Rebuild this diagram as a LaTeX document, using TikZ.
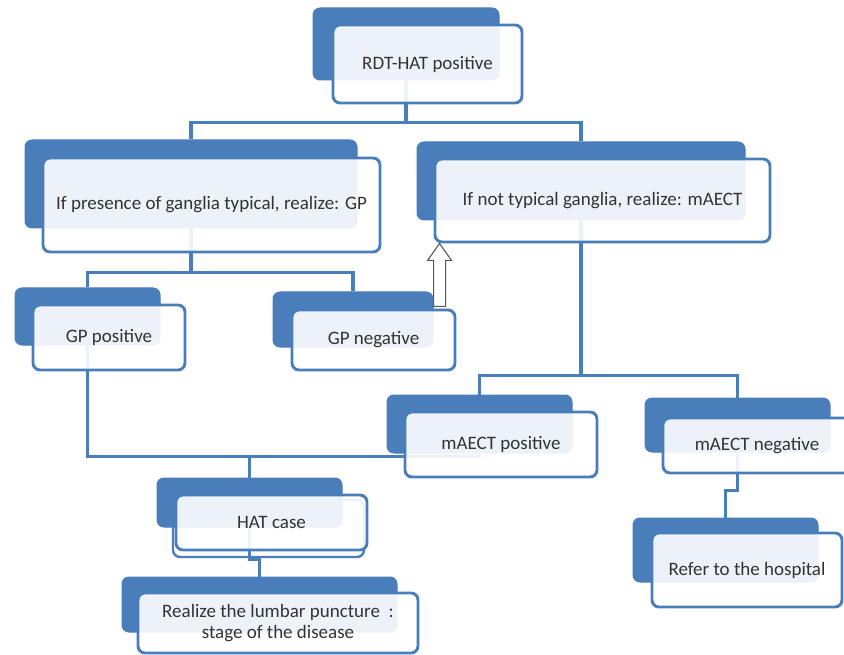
\documentclass[tikz,border=0pt]{standalone}
\usepackage{fontspec}
\setmainfont{Carlito}
\usetikzlibrary{backgrounds}
\definecolor{nblue}{HTML}{4A7EBB}
\definecolor{txt}{HTML}{333333}
\tikzset{
  backbox/.style={fill=nblue, draw=nblue, line width=1pt, rounded corners=7pt, inner sep=0pt},
  frontbox/.style={draw=nblue, line width=2.9pt, fill=white, fill opacity=0.9, text opacity=1,
    rounded corners=7pt, inner sep=0pt, text=txt, align=center,
    font=\fontsize{19}{21}\selectfont},
  ghostbox/.style={draw=nblue, line width=2.4pt, rounded corners=7pt, inner sep=0pt},
  conn/.style={draw=nblue, line width=3.2pt},
  hollowarrow/.style={draw=black!65, line width=1.1pt, fill=white, line join=miter}
}
\begin{document}
\begin{tikzpicture}[x=1pt,y=-1pt]
\useasboundingbox (0,0) rectangle (844,655);

% RDT-HAT positive
\node[backbox, minimum width=186, minimum height=72] (n1b) at (406,44) {};
\node[frontbox, minimum width=189, minimum height=78] (n1) at (427.5,64) {RDT-HAT positive};

% first-level tests
\node[backbox, minimum width=332, minimum height=88] (n2b) at (191,184) {};
\node[frontbox, minimum width=337, minimum height=94] (n2) at (211.5,205) {If presence of ganglia typical, realize: GP};

\node[backbox, minimum width=328, minimum height=78] (n3b) at (581,181) {};
\node[frontbox, minimum width=335, minimum height=83] (n3) at (602.5,200.5) {If not typical ganglia, realize: mAECT};

% GP results
\node[backbox, minimum width=145, minimum height=57] (n4b) at (87.5,316.5) {};
\node[frontbox, minimum width=152, minimum height=65] (n4) at (109,337.5) {GP positive};

\node[backbox, minimum width=160, minimum height=55] (n5b) at (353,319.5) {};
\node[frontbox, minimum width=163, minimum height=60] (n5) at (373.5,340) {GP negative};

% mAECT results
\node[backbox, minimum width=185, minimum height=58] (n6b) at (479.5,424) {};
\node[frontbox, minimum width=192, minimum height=65] (n6) at (501,444.5) {mAECT positive};

\node[backbox, minimum width=185, minimum height=54] (n7b) at (737.5,425) {};
\node[frontbox, minimum width=188, minimum height=55] (n7) at (757,445.5) {mAECT negative};

% outcomes
\node[backbox, minimum width=185, minimum height=64] (n8b) at (725.5,550) {};
\node[frontbox, minimum width=190, minimum height=74] (n8) at (747,570) {Refer to the hospital};

\node[backbox, minimum width=185, minimum height=49] (n9b) at (249.5,502.5) {};
\node[ghostbox, minimum width=191, minimum height=57] (n9g) at (268.5,528.5) {};
\node[frontbox, minimum width=191, minimum height=55] (n9) at (271.5,522.5) {HAT case};

\node[backbox, minimum width=275, minimum height=55] (n10b) at (259.5,604.5) {};
\node[frontbox, minimum width=280, minimum height=60] (n10) at (278,623) {Realize the lumbar puncture \ :\\stage of the disease};

% tree connectors, under the boxes
\begin{pgfonlayer}{background}
  \draw[conn] (n1b.south) -- ++(0,42) coordinate (j1);
  \draw[conn] (n2b.north) |- (j1) -| (n3b.north);
  \draw[conn] (n2b.south) -- ++(0,44) coordinate (j2);
  \draw[conn] (n4b.north) |- (j2) -| (n5b.north);
  \draw[conn] (n3b.south) -- ++(0,155) coordinate (j3);
  \draw[conn] (n6b.north) |- (j3) -| (n7b.north);
  \draw[conn] (n4b.south) |- ([yshift=-3pt]n6b.south) -- (n6b.south);
  \draw[conn] (n9b.north) -- ++(0,-23);
  \draw[conn] (n9b.south) -- ++(0,32) -| (n10b.north);
  \draw[conn] (n7b.south) -- ++(0,38) -| (n8b.north);
\end{pgfonlayer}

% hollow arrow from GP negative up to the mAECT test
\coordinate (tip) at ([xshift=6pt]n3.south west);
\draw[hollowarrow] (tip) -- ++(12,17) -- ++(-6,0) -- ++(0,46) -- ++(-12,0)
  -- ++(0,-46) -- ++(-6,0) -- cycle;
\end{tikzpicture}
\end{document}
